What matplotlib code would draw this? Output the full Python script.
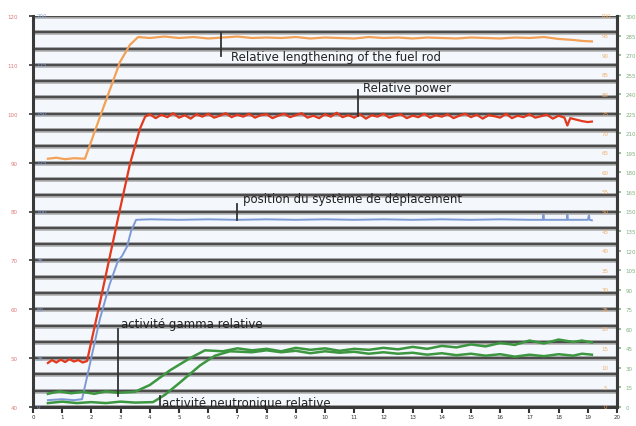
import matplotlib
matplotlib.use("Agg")
import matplotlib.pyplot as plt

plt.rcParams['font.family'] = ['DejaVu Sans']

# ---------------- data ----------------
x_ticks = list(range(0, 21))
x_tick_labels = [str(v) for v in x_ticks]

left_ticks = [40, 50, 60, 70, 80, 90, 100, 110, 120]
left_tick_labels = ["40", "50", "60", "70", "80", "90", "100", "110", "120"]
blue_tick_labels = ["0", "25", "50", "75", "100", "125", "150", "175", "200"]

right_positions = [40 + 4 * i for i in range(21)]
orange_tick_labels = [str(v) for v in range(0, 105, 5)]
green_tick_labels = [str(v) for v in range(0, 315, 15)]

# Relative lengthening of the fuel rod (orange)
len_x = [0.51, 0.8, 1.1, 1.4, 1.78, 2.29, 2.98, 3.32, 3.6,
         4.0, 4.5, 5.0, 5.5, 6.0, 6.5, 7.0, 7.5, 8.0, 8.5, 9.0, 9.5, 10.0,
         10.5, 11.0, 11.5, 12.0, 12.5, 13.0, 13.5, 14.0, 14.5, 15.0, 15.5,
         16.0, 16.5, 17.0, 17.5, 18.0, 18.5, 18.8, 19.14]
len_y = [90.8, 91.0, 90.7, 90.9, 90.8, 99.3, 110.6, 114.1, 115.7,
         115.5, 115.8, 115.5, 115.7, 115.4, 115.6, 115.8, 115.5, 115.6, 115.5, 115.7, 115.4, 115.6,
         115.5, 115.4, 115.7, 115.5, 115.6, 115.4, 115.6, 115.5, 115.4, 115.6, 115.5,
         115.4, 115.6, 115.5, 115.7, 115.3, 115.1, 114.9, 114.8]

# Relative power (red)
pow_x = [0.51, 0.65, 0.8, 0.95, 1.1, 1.25, 1.4, 1.55, 1.7, 1.85, 2.29, 2.98, 3.32, 3.66, 3.84,
         4.0, 4.2, 4.4, 4.6, 4.8, 5.0, 5.2, 5.4, 5.6, 5.8, 6.0, 6.2, 6.4, 6.6, 6.8, 7.0,
         7.2, 7.4, 7.6, 7.8, 8.0, 8.2, 8.4, 8.6, 8.8, 9.0, 9.2, 9.4, 9.6, 9.8, 10.0,
         10.2, 10.4, 10.6, 10.8, 11.0, 11.2, 11.4, 11.6, 11.8, 12.0, 12.2, 12.4, 12.6,
         12.8, 13.0, 13.2, 13.4, 13.6, 13.8, 14.0, 14.2, 14.4, 14.6, 14.8, 15.0, 15.2,
         15.4, 15.6, 15.8, 16.0, 16.2, 16.4, 16.6, 16.8, 17.0, 17.2, 17.4, 17.6, 17.8,
         18.0, 18.2, 18.3, 18.4, 18.6, 18.8, 19.0, 19.14]
pow_y = [49.0, 49.6, 49.1, 49.7, 49.2, 49.8, 49.3, 49.6, 49.1, 49.4, 61.3, 80.5, 89.7, 96.9, 99.4,
         99.9, 99.1, 99.8, 99.3, 100.1, 99.2, 99.7, 99.0, 99.9, 99.4, 100.0, 99.2, 99.6, 100.1, 99.3,
         99.8, 99.4, 100.0, 99.2, 99.7, 99.9, 99.1, 99.6, 100.0, 99.3, 99.7, 100.1, 99.2, 99.6, 99.1,
         99.9, 99.4, 100.2, 99.3, 99.7, 99.2, 99.9, 99.0, 99.7, 99.4, 100.0, 99.2, 99.6,
         99.9, 99.1, 99.6, 99.3, 100.0, 99.2, 99.7, 99.4, 99.9, 99.1, 99.6, 100.0, 99.3,
         99.8, 99.0, 99.7, 99.5, 99.2, 100.0, 99.1, 99.6, 99.3, 99.9, 99.2, 99.5, 99.8,
         99.0, 99.6, 99.2, 97.6, 99.1, 98.8, 98.5, 98.3, 98.4]

# Position du système de déplacement (blue)
pos_x = [0.51, 1.0, 1.4, 1.68, 1.95, 2.29, 2.63, 2.91, 3.05, 3.22, 3.36, 3.53,
         4.0, 5.0, 6.0, 7.0, 8.0, 9.0, 10.0, 11.0, 12.0, 13.0, 14.0, 15.0,
         16.0, 17.0, 17.46, 17.48, 17.5, 18.0, 18.28, 18.3, 18.32, 19.0, 19.04, 19.06, 19.14]
pos_y = [41.4, 41.6, 41.4, 41.6, 48.8, 58.0, 65.2, 69.9, 70.9, 72.8, 76.0, 78.3,
         78.4, 78.3, 78.4, 78.3, 78.4, 78.3, 78.4, 78.3, 78.4, 78.3, 78.4, 78.3,
         78.4, 78.3, 78.3, 79.3, 78.3, 78.3, 78.3, 79.3, 78.3, 78.3, 79.2, 78.3, 78.2]

# Activité gamma relative (green)
gam_x = [0.51, 0.9, 1.3, 1.7, 2.1, 2.5, 2.9, 3.2, 3.49, 4.0, 4.69, 5.38, 5.89, 6.5, 7.0,
         7.5, 8.0, 8.5, 9.0, 9.5, 10.0, 10.5, 11.0, 11.5, 12.0, 12.5, 13.0, 13.5,
         14.0, 14.5, 15.0, 15.5, 16.0, 16.5, 17.0, 17.5, 18.0, 18.5, 18.8, 19.14]
gam_y = [42.7, 43.2, 42.8, 43.1, 42.7, 43.2, 42.9, 43.0, 43.1, 44.5, 47.5, 50.0, 51.6, 51.4, 52.0,
         51.6, 51.9, 51.4, 52.1, 51.7, 52.0, 51.5, 51.9, 51.7, 52.1, 51.8, 52.3, 51.9,
         52.5, 52.2, 52.8, 52.4, 53.1, 52.7, 53.6, 53.0, 53.8, 53.3, 53.6, 53.2]

# Activité neutronique relative (green)
neu_x = [0.51, 1.0, 1.5, 2.0, 2.5, 3.0, 3.5, 4.11, 4.52, 5.03, 5.72, 6.23, 6.75,
         7.5, 8.0, 8.5, 9.0, 9.5, 10.0, 10.5, 11.0, 11.5, 12.0, 12.5, 13.0, 13.5,
         14.0, 14.5, 15.0, 15.5, 16.0, 16.5, 17.0, 17.5, 18.0, 18.5, 18.8, 19.14]
neu_y = [40.8, 41.1, 40.8, 41.0, 40.8, 41.1, 40.9, 41.0, 42.5, 45.0, 48.5, 50.5, 51.4,
         51.2, 51.6, 51.2, 51.5, 51.0, 51.4, 51.1, 51.3, 50.9, 51.2, 50.9, 51.1, 50.7,
         51.0, 50.6, 50.9, 50.5, 50.8, 50.3, 50.7, 50.4, 50.8, 50.5, 50.9, 50.7]

# ---------------- figure ----------------
W, H = 636, 427
L, R, T, B = 33, 617, 17, 408
fig = plt.figure(figsize=(W / 100, H / 100), dpi=100)
fig.patch.set_facecolor('white')
ax = fig.add_axes([L / W, 1 - B / H, (R - L) / W, (B - T) / H])
ax.set_facecolor('#f4f8fc')
ax.set_xlim(0, 20)
ax.set_ylim(40, 120)

# grid lines (24 divisions)
grid_levels = [40 + 80 * k / 24 for k in range(25)]
for g in grid_levels:
    ax.axhline(g, color='#b4b4b4', lw=3.4, zorder=1)
    ax.axhline(g, color='#4c4c4c', lw=1.7, zorder=1)

# series
ax.plot(len_x, len_y, color='#f3a156', lw=1.6, zorder=3)
ax.plot(pow_x, pow_y, color='#e2391f', lw=1.6, zorder=3)
ax.plot(pos_x, pos_y, color='#7d9ad4', lw=1.4, zorder=3)
ax.plot(gam_x, gam_y, color='#3d9640', lw=1.8, zorder=3)
ax.plot(neu_x, neu_y, color='#3d9640', lw=1.8, zorder=3)

# annotations (pointer lines + labels)
ann_kw = dict(fontsize=8.5, color='#222222', va='center', ha='left', zorder=5)
line_kw = dict(color='#333333', lw=1.3, zorder=4, clip_on=False)
ax.plot([6.44, 6.44], [116.6, 111.8], **line_kw)
ax.text(6.78, 111.8, "Relative lengthening of the fuel rod", **ann_kw)
ax.plot([11.13, 11.13], [104.8, 99.6], **line_kw)
ax.text(11.30, 105.3, "Relative power", **ann_kw)
ax.plot([6.99, 6.99], [81.6, 78.3], **line_kw)
ax.text(7.19, 82.6, "position du système de déplacement", **ann_kw)
ax.plot([2.91, 2.91], [56.0, 42.3], **line_kw)
ax.text(3.01, 57.0, "activité gamma relative", **ann_kw)
ax.plot([4.35, 4.35], [42.3, 40.4], **line_kw)
ax.text(4.42, 41.0, "activité neutronique relative", clip_on=False, **ann_kw)

# axes spines
ax.spines['top'].set_visible(False)
for s in ['left', 'right', 'bottom']:
    ax.spines[s].set_color('#3a3a3a')
    ax.spines[s].set_linewidth(2.2)

# x ticks
ax.set_xticks(x_ticks)
ax.set_xticklabels(x_tick_labels, fontsize=4, color='#333333')
ax.tick_params(axis='x', direction='out', length=4, width=1.5, color='#333333', pad=1)

# left ticks (red, outside) + blue labels inside
ax.set_yticks(left_ticks)
ax.set_yticklabels(left_tick_labels, fontsize=4, color='#e07a7a')
ax.tick_params(axis='y', direction='out', length=3, width=1.2, color='#333333', pad=8)
for yv, lab in zip(left_ticks, blue_tick_labels):
    ax.text(0.12, yv, lab, fontsize=4, color='#8ea6d8', va='center', ha='left', zorder=6)

# right labels: orange inside, green outside
for yv, lab in zip(right_positions, orange_tick_labels):
    ax.text(19.6, yv, lab, fontsize=4, color='#f0b070', va='center', ha='center', zorder=6)
ax2 = ax.twinx()
ax2.set_ylim(40, 120)
ax2.set_yticks(right_positions)
ax2.set_yticklabels(green_tick_labels, fontsize=4, color='#7fb07f')
ax2.tick_params(axis='y', direction='out', length=3, width=1.2, color='#7fb07f', pad=3)
for s in ['top', 'left', 'bottom']:
    ax2.spines[s].set_visible(False)
ax2.spines['right'].set_color('#3a3a3a')
ax2.spines['right'].set_linewidth(2.2)

fig.savefig("out.png", dpi=100)
